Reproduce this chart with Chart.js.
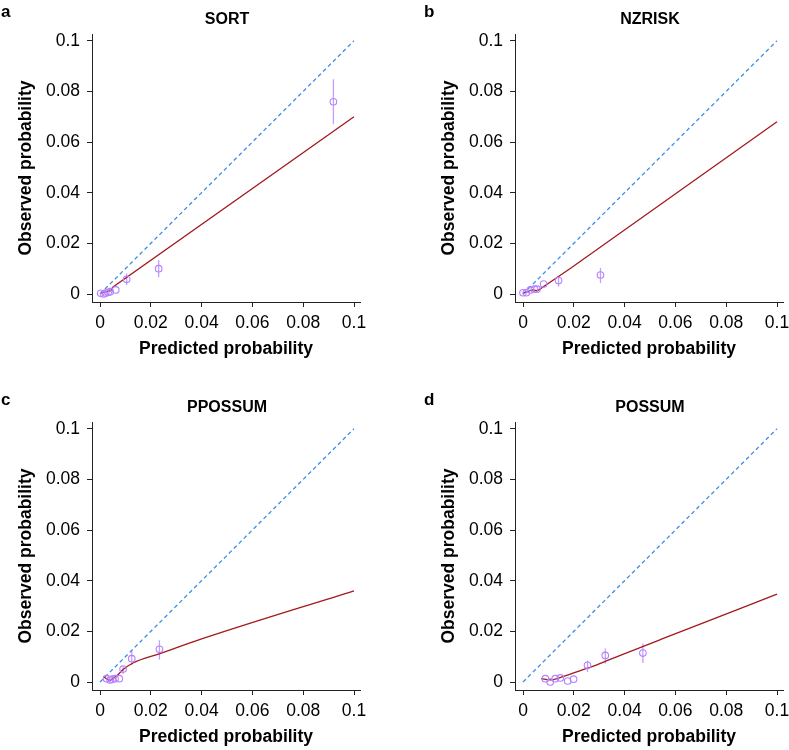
<!DOCTYPE html>
<html>
<head>
<meta charset="utf-8">
<script src="https://cdn.jsdelivr.net/npm/chart.js@4.4.1/dist/chart.umd.min.js"></script>
<style>
  body { margin: 0; background: #fff; }
  #wrap { position: relative; width: 789px; height: 750px; overflow: hidden; }
  canvas { position: absolute; }
</style>
</head>
<body>
<div id="wrap">
  <canvas id="cA" width="366" height="362" style="left:0;top:0"></canvas>
  <canvas id="cB" width="366" height="362" style="left:423px;top:0"></canvas>
  <canvas id="cC" width="366" height="362" style="left:0;top:388px"></canvas>
  <canvas id="cD" width="366" height="362" style="left:423px;top:388px"></canvas>
</div>
<script>
// tick labels shared by all axes
const tickVals = [0, 0.02, 0.04, 0.06, 0.08, 0.1];
const tickText = ["0", "0.02", "0.04", "0.06", "0.08", "0.1"];

// a - SORT
const predA = [0.0003, 0.0015, 0.0022, 0.0032, 0.0040, 0.0062, 0.0105, 0.0231, 0.0919];
const obsA  = [0.0003, 0.0000, 0.0004, 0.0006, 0.0009, 0.0016, 0.0058, 0.0100, 0.0759];
const loA   = [null, null, null, null, null, null, 0.0036, 0.0066, 0.0670];
const hiA   = [null, null, null, null, null, null, 0.0082, 0.0134, 0.0848];
const fitXA = [0.0003, 0.0042, 0.0050, 0.1];
const fitYA = [0.0003, 0.0013, 0.0027, 0.0700];

// b - NZRISK
const predB = [0.0000, 0.0013, 0.0029, 0.0045, 0.0055, 0.0081, 0.0140, 0.0305];
const obsB  = [0.0005, 0.0005, 0.0016, 0.0019, 0.0019, 0.0039, 0.0053, 0.0075];
const loB   = [null, null, null, null, null, null, 0.0029, 0.0043];
const hiB   = [null, null, null, null, null, null, 0.0071, 0.0103];
const fitXB = [0.0000, 0.0035, 0.0057, 0.0186, 0.1];
const fitYB = [0.0003, 0.0016, 0.0013, 0.0101, 0.0680];

// c - PPOSSUM
const predC = [0.0026, 0.0040, 0.0048, 0.0059, 0.0076, 0.0091, 0.0125, 0.0234];
const obsC  = [0.0013, 0.0008, 0.0011, 0.0013, 0.0013, 0.0051, 0.0092, 0.0129];
const loC   = [null, null, null, null, null, 0.0033, 0.0066, 0.0088];
const hiC   = [null, null, null, null, null, 0.0062, 0.0125, 0.0165];
const fitXC = [0.0013, 0.0037, 0.0066, 0.0092, 0.0130, 0.0236, 0.0400, 0.1];
const fitYC = [0.0022, 0.0007, 0.0025, 0.0050, 0.0075, 0.0112, 0.0170, 0.0360];

// d - POSSUM
const predD = [0.0088, 0.0107, 0.0127, 0.0147, 0.0176, 0.0199, 0.0254, 0.0324, 0.0472];
const obsD  = [0.0013, 0.0000, 0.0013, 0.0016, 0.0004, 0.0011, 0.0066, 0.0105, 0.0114];
const loD   = [null, null, null, null, null, null, 0.0039, 0.0073, 0.0075];
const hiD   = [null, null, null, null, null, null, 0.0085, 0.0132, 0.0152];
const fitXD = [0.0071, 0.0107, 0.0160, 0.0226, 0.0291, 0.0383, 0.0540, 0.1];
const fitYD = [0.0013, 0.0008, 0.0022, 0.0045, 0.0068, 0.0105, 0.0167, 0.0347];

const refLine = [0, 0.1];

const FONT = "'Liberation Sans', Arial, Helvetica, sans-serif";
const axisColor = "#222";
const purple = "#b482ff";
const purpleBar = "#c79dff";
const red = "#a3191c";
const blue = "#3a8ee8";

function pts(xs, ys) {
    return xs.map((x, i) => ({ x: x, y: ys[i] }));
}

// vertical confidence bars, drawn under the circles
const ciPlugin = {
    id: "ci",
    beforeDatasetsDraw(chart, args, opts) {
        const ctx = chart.ctx;
        const xs = chart.scales.x, ys = chart.scales.y;
        ctx.save();
        ctx.strokeStyle = purpleBar;
        ctx.lineWidth = 1.3;
        opts.x.forEach((x, i) => {
            if (opts.lo[i] == null) return;
            const px = xs.getPixelForValue(x);
            ctx.beginPath();
            ctx.moveTo(px, ys.getPixelForValue(opts.lo[i]));
            ctx.lineTo(px, ys.getPixelForValue(opts.hi[i]));
            ctx.stroke();
        });
        ctx.restore();
    }
};

// panel title and letter
const headPlugin = {
    id: "head",
    afterDraw(chart, args, opts) {
        const ctx = chart.ctx;
        ctx.save();
        ctx.fillStyle = "#000";
        ctx.textBaseline = "middle";
        ctx.font = "bold 17px " + FONT;
        ctx.textAlign = "left";
        ctx.fillText(opts.letter, 1, 12);
        ctx.font = "bold 16px " + FONT;
        ctx.textAlign = "center";
        ctx.fillText(opts.title, chart.scales.x.getPixelForValue(0.05), 20);
        ctx.restore();
    }
};

function axis(titleText, isX) {
    return {
        type: "linear",
        min: isX ? -8 / 2540 : -8 / 2533,
        max: isX ? 0.1 + 6 / 2540 : 0.1 + 6.7 / 2533,
        afterBuildTicks: s => { s.ticks = tickVals.map(v => ({ value: v })); },
        afterFit: s => {
            if (isX) { s.height = 60; s.paddingLeft = 0; s.paddingRight = 0; }
            else { s.width = 92; s.paddingTop = 0; s.paddingBottom = 0; }
        },
        ticks: {
            callback: (v, i) => tickText[i],
            color: "#000",
            font: { family: FONT, size: 17.5 },
            padding: isX ? 6 : 7,
            maxRotation: 0,
            autoSkip: false
        },
        grid: { display: true, drawOnChartArea: false, drawTicks: true, tickLength: 5, color: axisColor, lineWidth: 1 },
        border: { display: true, color: axisColor, width: 1 },
        title: {
            display: true,
            text: titleText,
            color: "#000",
            font: { family: FONT, size: 17.5, weight: "bold" },
            padding: isX ? { top: 0, bottom: 2 } : { top: 16, bottom: 0 }
        }
    };
}

function makePanel(id, letter, title, pred, obs, lo, hi, fitX, fitY, smooth) {
    const ctx = document.getElementById(id).getContext("2d");
    return new Chart(ctx, {
        type: "scatter",
        data: {
            datasets: [
                {
                    data: pts(pred, obs),
                    showLine: false,
                    pointRadius: 3.3,
                    pointBorderWidth: 1.1,
                    pointBorderColor: purple,
                    pointBackgroundColor: "rgba(0,0,0,0)"
                },
                {
                    data: pts(fitX, fitY),
                    showLine: true,
                    borderColor: red,
                    borderWidth: 1.3,
                    pointRadius: 0,
                    tension: 0,
                    cubicInterpolationMode: smooth ? "monotone" : "default"
                },
                {
                    data: pts(refLine, refLine),
                    showLine: true,
                    borderColor: blue,
                    borderWidth: 1.3,
                    borderDash: [4, 3],
                    pointRadius: 0
                }
            ]
        },
        options: {
            responsive: false,
            animation: false,
            devicePixelRatio: 1,
            layout: { padding: { top: 34, right: 6, left: 0, bottom: 0 } },
            plugins: {
                legend: { display: false },
                tooltip: { enabled: false },
                ci: { x: pred, lo: lo, hi: hi },
                head: { letter: letter, title: title }
            },
            scales: {
                x: axis("Predicted probability", true),
                y: axis("Observed probability", false)
            }
        },
        plugins: [ciPlugin, headPlugin]
    });
}

makePanel("cA", "a", "SORT", predA, obsA, loA, hiA, fitXA, fitYA, false);
makePanel("cB", "b", "NZRISK", predB, obsB, loB, hiB, fitXB, fitYB, false);
makePanel("cC", "c", "PPOSSUM", predC, obsC, loC, hiC, fitXC, fitYC, true);
makePanel("cD", "d", "POSSUM", predD, obsD, loD, hiD, fitXD, fitYD, true);
</script>
</body>
</html>
